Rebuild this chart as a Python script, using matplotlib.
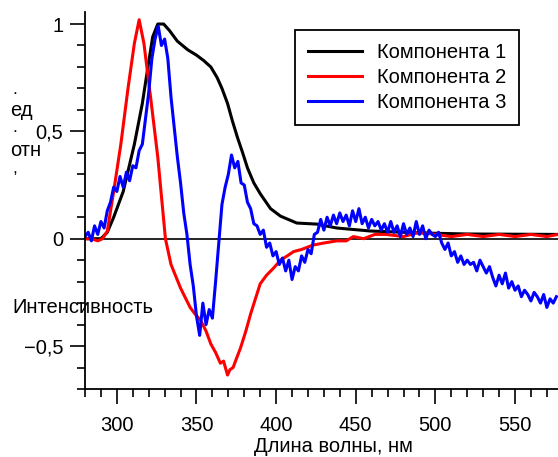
import numpy as np
import matplotlib
matplotlib.use('Agg')
import matplotlib.pyplot as plt
from matplotlib.ticker import MultipleLocator

plt.rcParams['font.family'] = ['Liberation Sans', 'DejaVu Sans']

# Component 1 (black), smooth
wl_1 = [280, 286, 290, 294, 298, 304, 311, 316, 319.5, 322.5, 325.7, 329.4, 333, 338,
        344.5, 350, 354.5, 359, 363, 366, 369.5, 372.5, 375.8, 379, 382, 386, 390,
        396.5, 402.8, 413, 425.7, 438, 459, 490, 520, 577]
comp_1 = [0.0, 0.0, 0.0, 0.03, 0.1, 0.22, 0.44, 0.63, 0.80, 0.94, 1.0, 1.0, 0.97, 0.92,
          0.88, 0.855, 0.83, 0.80, 0.75, 0.70, 0.63, 0.55, 0.47, 0.40, 0.33, 0.26, 0.21,
          0.14, 0.105, 0.073, 0.068, 0.05, 0.036, 0.027, 0.022, 0.02]

# Component 2 (red)
wl_2 = [280, 284, 288, 291, 294, 298, 302.5, 307, 311, 314, 317, 321, 325.7, 330.5, 334,
        340, 346, 349, 352.6, 356, 359, 362, 365, 367, 369.5, 371, 373, 375, 377.6, 381,
        384, 387, 390, 394, 398, 402.8, 407, 411, 416, 423, 430, 438, 444, 448.5, 455,
        462, 469, 480, 490, 500, 510, 520, 530, 540, 550, 560, 570, 577]
comp_2 = [0.0, 0.0, -0.01, 0.0, 0.035, 0.22, 0.44, 0.70, 0.91, 1.02, 0.91, 0.67, 0.38,
          0.0, -0.12, -0.23, -0.32, -0.35, -0.38, -0.43, -0.49, -0.53, -0.58, -0.57,
          -0.635, -0.61, -0.60, -0.56, -0.51, -0.43, -0.35, -0.28, -0.21, -0.17, -0.14,
          -0.10, -0.08, -0.06, -0.05, -0.03, -0.02, -0.01, -0.01, 0.01, 0.0, 0.02, 0.02,
          0.01, 0.03, 0.02, 0.01, 0.02, 0.01, 0.02, 0.01, 0.02, 0.01, 0.02]

# Component 3 (blue), noisy, read every 2 nm
wl_3 = list(range(280, 578, 2))
comp_3 = [0.01, 0.03, -0.01, 0.06, 0.02, 0.08, 0.05, 0.13, 0.17, 0.24,
          0.22, 0.29, 0.24, 0.31, 0.27, 0.34, 0.33, 0.41, 0.44, 0.56,
          0.68, 0.84, 0.93, 0.99, 0.90, 0.93, 0.84, 0.66, 0.52, 0.38,
          0.26, 0.12, 0.02, -0.12, -0.22, -0.36, -0.45, -0.30, -0.40, -0.33,
          -0.37, -0.20, -0.02, 0.16, 0.24, 0.30, 0.39, 0.33, 0.36, 0.26,
          0.25, 0.17, 0.14, 0.07, 0.06, 0.02, 0.04, -0.04, -0.02, -0.08,
          -0.06, -0.12, -0.09, -0.15, -0.10, -0.19, -0.13, -0.15, -0.08, -0.11,
          -0.05, -0.07, 0.02, 0.03, 0.09, 0.04, 0.10, 0.06, 0.11, 0.07,
          0.12, 0.08, 0.11, 0.06, 0.13, 0.08, 0.14, 0.07, 0.10, 0.05,
          0.09, 0.06, 0.08, 0.04, 0.07, 0.03, 0.08, 0.03, 0.06, 0.01,
          0.07, 0.02, 0.05, 0.01, 0.08, 0.02, 0.06, 0.00, 0.04, 0.02,
          0.01, 0.03, -0.02, -0.05, -0.02, -0.08, -0.06, -0.11, -0.08, -0.12,
          -0.10, -0.12, -0.11, -0.15, -0.10, -0.13, -0.16, -0.13, -0.18, -0.22,
          -0.17, -0.21, -0.16, -0.23, -0.20, -0.24, -0.22, -0.27, -0.24, -0.26,
          -0.29, -0.25, -0.27, -0.30, -0.26, -0.32, -0.28, -0.30, -0.27]

labels = ['Компонента 1', 'Компонента 2', 'Компонента 3']
colors = ['black', 'red', 'blue']
ytick_vals = [-0.5, 0, 0.5, 1]
ytick_text = ['\u22120,5', '0', '0,5', '1']
xtick_vals = [300, 350, 400, 450, 500, 550]

fs = 14.5
fs_punct = 12.5

fig = plt.figure(figsize=(5.58, 4.57), dpi=100)
ax = fig.add_axes([85/558, 1 - 389/457, 1 - 85/558, (389 - 12)/457])

for wl, val, lab, col in zip([wl_1, wl_2, wl_3], [comp_1, comp_2, comp_3], labels, colors):
    ax.plot(wl, val, color=col, lw=2.2, label=lab)

ax.axhline(0, color='black', lw=1.2, zorder=1)

ax.set_xlim(280, 577)
ax.set_ylim(-0.7, 1.056)
ax.set_xticks(xtick_vals)
ax.xaxis.set_minor_locator(MultipleLocator(10))
ax.set_yticks(ytick_vals)
ax.set_yticklabels(ytick_text)
ax.yaxis.set_minor_locator(MultipleLocator(0.1))

ax.spines['top'].set_visible(False)
ax.spines['right'].set_visible(False)
ax.spines['left'].set_linewidth(1.3)
ax.spines['bottom'].set_linewidth(1.3)
ax.tick_params(which='major', direction='out', length=10.5, width=1.2, labelsize=fs)
ax.tick_params(axis='x', which='major', pad=9)
ax.tick_params(axis='y', which='major', pad=5)
ax.tick_params(which='minor', direction='out', length=5.8, width=1.2)

leg = ax.legend(loc='upper left', bbox_to_anchor=(295/558, 1 - 30/457),
                bbox_transform=fig.transFigure, fancybox=False, framealpha=1,
                edgecolor='black', fontsize=fs, handlelength=2.7,
                handletextpad=0.7, borderpad=0.65, labelspacing=0.3, borderaxespad=0)
leg.get_frame().set_linewidth(1.3)

# broken y label pieces as in the original
fig.text(12/558, 1 - 94/457, '.', fontsize=fs_punct, va='baseline')
fig.text(10/558, 1 - 116/457, 'ед', fontsize=fs, va='baseline')
fig.text(12/558, 1 - 132/457, '.', fontsize=fs_punct, va='baseline')
fig.text(10/558, 1 - 156/457, 'отн', fontsize=fs, va='baseline')
fig.text(12/558, 1 - 173/457, ',', fontsize=fs_punct, va='baseline')
fig.text(12/558, 1 - 313/457, 'Интенсивность', fontsize=fs, va='baseline')

fig.text(333/558, 1 - 452/457, 'Длина волны, нм', fontsize=fs, ha='center', va='baseline')

fig.savefig('out.png', dpi=100)
